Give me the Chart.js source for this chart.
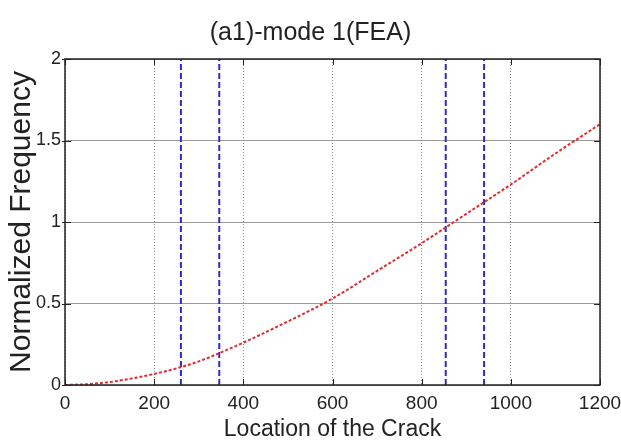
<!DOCTYPE html>
<html>
<head>
<meta charset="utf-8">
<script src="https://cdn.jsdelivr.net/npm/chart.js@4/dist/chart.umd.min.js"></script>
<style>
  html, body { margin: 0; padding: 0; background: #fff; }
  #wrap { width: 621px; height: 443px; position: relative; }
</style>
</head>
<body>
<div id="wrap"><canvas id="c" width="621" height="443"></canvas></div>
<script>
// Crack location along the beam and the normalized first-mode frequency
const crackLocation = [0, 50, 100, 150, 200, 250, 300, 350, 400, 500, 600, 700, 800, 900, 1000, 1100, 1200];
const normFrequency = [0, 0.005, 0.018, 0.04, 0.068, 0.102, 0.145, 0.2, 0.26, 0.39, 0.53, 0.70, 0.87, 1.05, 1.23, 1.42, 1.60];

// Vertical marker positions (dashed blue)
const markerLocations = [260, 346, 854, 940];

// Axis ticks
const xTicks = [0, 200, 400, 600, 800, 1000, 1200];
const yTicks = [0, 0.5, 1, 1.5, 2];

const sans = '"Liberation Sans", Arial, sans-serif';

const markerSets = markerLocations.map(x => ({
  data: [{ x: x, y: 0 }, { x: x, y: 2 }],
  borderColor: '#2b2bd6',
  borderWidth: 2,
  borderDash: [6, 3],
  pointRadius: 0,
  fill: false
}));

// Box frame plus inward tick marks on all four sides
const framePlugin = {
  id: 'frame',
  afterDatasetsDraw(chart) {
    const { ctx, chartArea: a, scales: { x, y } } = chart;
    ctx.save();
    ctx.strokeStyle = '#222';
    ctx.lineWidth = 1.5;
    ctx.strokeRect(a.left, a.top, a.right - a.left, a.bottom - a.top);
    ctx.lineWidth = 1;
    const len = 6;
    ctx.beginPath();
    xTicks.forEach(v => {
      const px = Math.round(x.getPixelForValue(v)) + 0.5;
      ctx.moveTo(px, a.bottom); ctx.lineTo(px, a.bottom - len);
      ctx.moveTo(px, a.top); ctx.lineTo(px, a.top + len);
    });
    yTicks.forEach(v => {
      const py = Math.round(y.getPixelForValue(v)) + 0.5;
      ctx.moveTo(a.left - 3, py); ctx.lineTo(a.left + len, py);
      ctx.moveTo(a.right, py); ctx.lineTo(a.right - len, py);
    });
    ctx.stroke();
    ctx.restore();
  }
};

new Chart(document.getElementById('c'), {
  type: 'line',
  data: {
    datasets: [
      {
        data: crackLocation.map((x, i) => ({ x: x, y: normFrequency[i] })),
        borderColor: '#e8282b',
        borderWidth: 2,
        borderDash: [3, 2],
        pointRadius: 0,
        cubicInterpolationMode: 'monotone',
        fill: false
      },
      ...markerSets
    ]
  },
  options: {
    responsive: false,
    animation: false,
    layout: { padding: { left: 0, right: 0, top: 0, bottom: 0 } },
    plugins: {
      legend: { display: false },
      tooltip: { enabled: false },
      title: {
        display: true,
        text: '(a1)-mode 1(FEA)',
        color: '#222',
        font: { family: sans, size: 25, weight: 'normal' },
        padding: { top: 18, bottom: 11 }
      }
    },
    scales: {
      x: {
        type: 'linear',
        min: 0,
        max: 1200,
        afterBuildTicks: s => { s.ticks = xTicks.map(v => ({ value: v })); },
        afterFit: s => { s.height = 58; s.paddingRight = 21; s.paddingLeft = 0; },
        grid: { color: '#8a8a8a', lineWidth: 1, drawTicks: false },
        border: { display: false, dash: [1, 2] },
        ticks: {
          padding: 7,
          color: '#222',
          maxRotation: 0,
          font: { family: sans, size: 19 },
          callback: v => String(v)
        },
        title: {
          display: true,
          text: 'Location of the Crack',
          color: '#222',
          font: { family: sans, size: 23 },
          padding: { top: 0, bottom: 0 }
        }
      },
      y: {
        type: 'linear',
        min: 0,
        max: 2,
        afterBuildTicks: s => { s.ticks = yTicks.map(v => ({ value: v })); },
        afterFit: s => { s.width = 65; },
        grid: { color: '#9a9a9a', lineWidth: 1, drawTicks: false },
        border: { display: false },
        ticks: {
          padding: 4,
          color: '#222',
          font: { family: sans, size: 18 },
          callback: v => String(v)
        },
        title: {
          display: true,
          text: 'Normalized Frequency',
          color: '#222',
          font: { family: sans, size: 30 },
          padding: { top: 4, bottom: 0 }
        }
      }
    }
  },
  plugins: [framePlugin]
});
</script>
</body>
</html>
